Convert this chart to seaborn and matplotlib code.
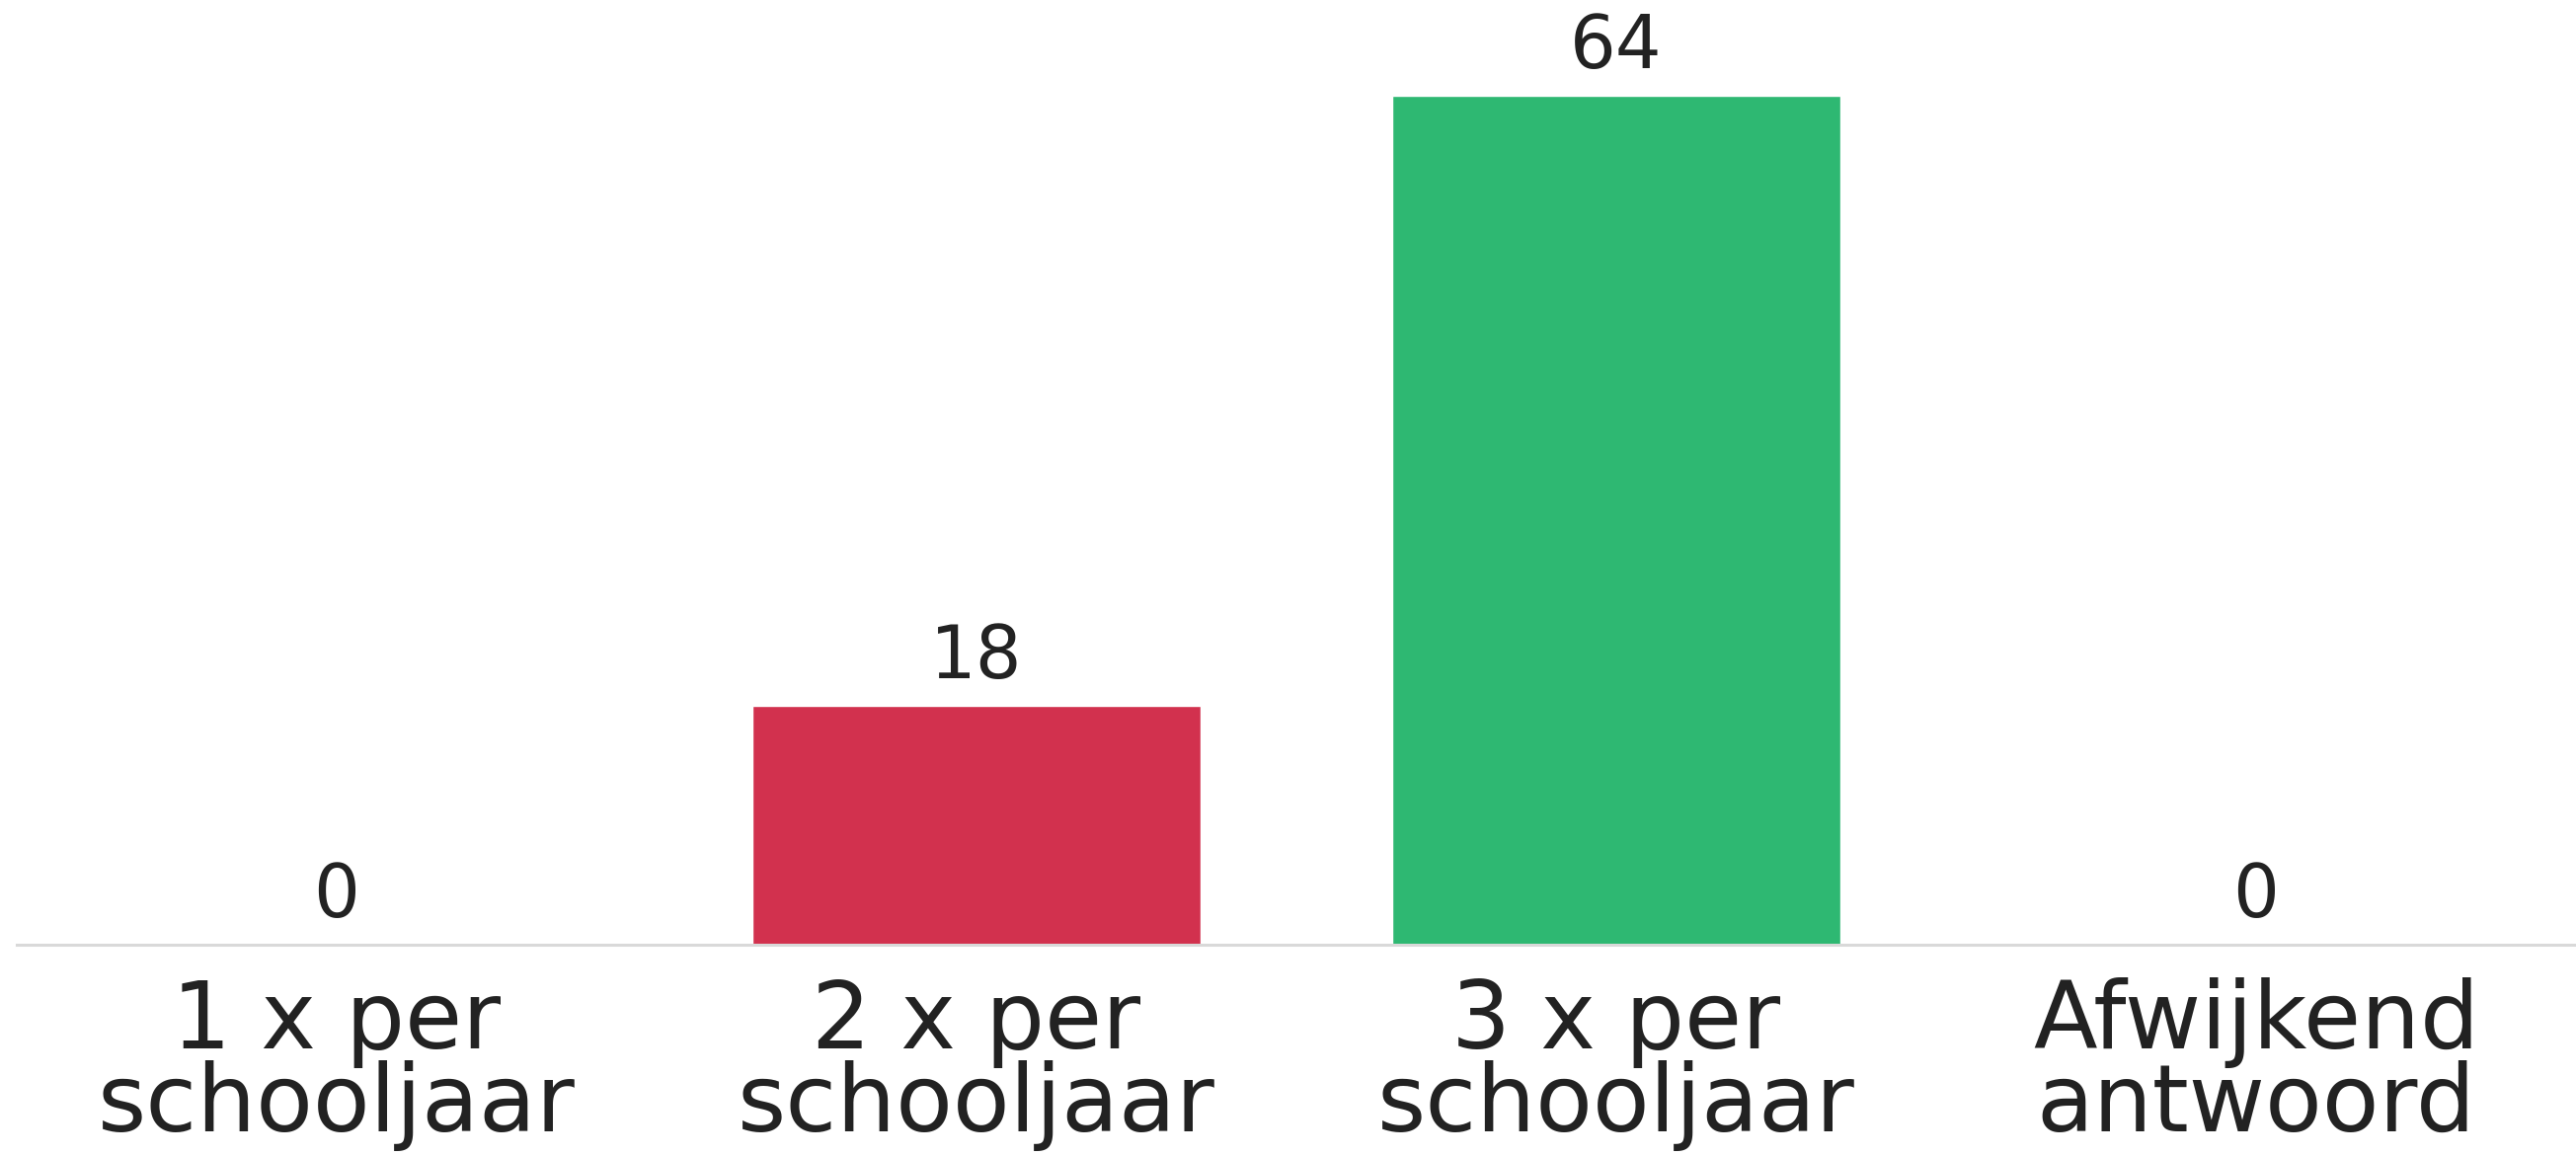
import matplotlib
matplotlib.use("Agg")
import matplotlib.pyplot as plt
import seaborn as sns
import pandas as pd

# Gegevens
categorieen = ['1 x per\nschooljaar', '2 x per\nschooljaar', '3 x per\nschooljaar', 'Afwijkend\nantwoord']
aantallen = [0, 18, 64, 0]
kleuren = ['#D2314E', '#D2314E', '#2EB872', '#2EB872']

sns.set_style("white")
plt.rcParams['font.family'] = ['DejaVu Sans']

df = pd.DataFrame({'categorie': categorieen, 'aantal': aantallen})

fig = plt.figure(figsize=(26.09, 11.70), dpi=100)
ax = fig.add_axes([0.0065, 0.182, 0.9935, 0.804])

sns.barplot(data=df, x='categorie', y='aantal', hue='categorie',
            palette=kleuren, width=0.7, legend=False, ax=ax, saturation=1)

ax.set_xlim(-0.5, 3.5)
ax.set_ylim(0, 70)

for i, v in enumerate(aantallen):
    ax.annotate(str(v), (i, v), xytext=(0, 49), textcoords='offset pixels',
                ha='center', va='center', fontsize=53, color='#222222')

for s in ['top', 'right', 'left']:
    ax.spines[s].set_visible(False)
ax.spines['bottom'].set_color('#d9d9d9')
ax.spines['bottom'].set_linewidth(2.2)

ax.set_yticks([])
ax.set_xlabel('')
ax.set_ylabel('')
ax.tick_params(axis='x', length=0, pad=24, labelsize=68, labelcolor='#222222')
for lbl in ax.get_xticklabels():
    lbl.set_linespacing(0.88)

fig.savefig('out.png', dpi=100)
